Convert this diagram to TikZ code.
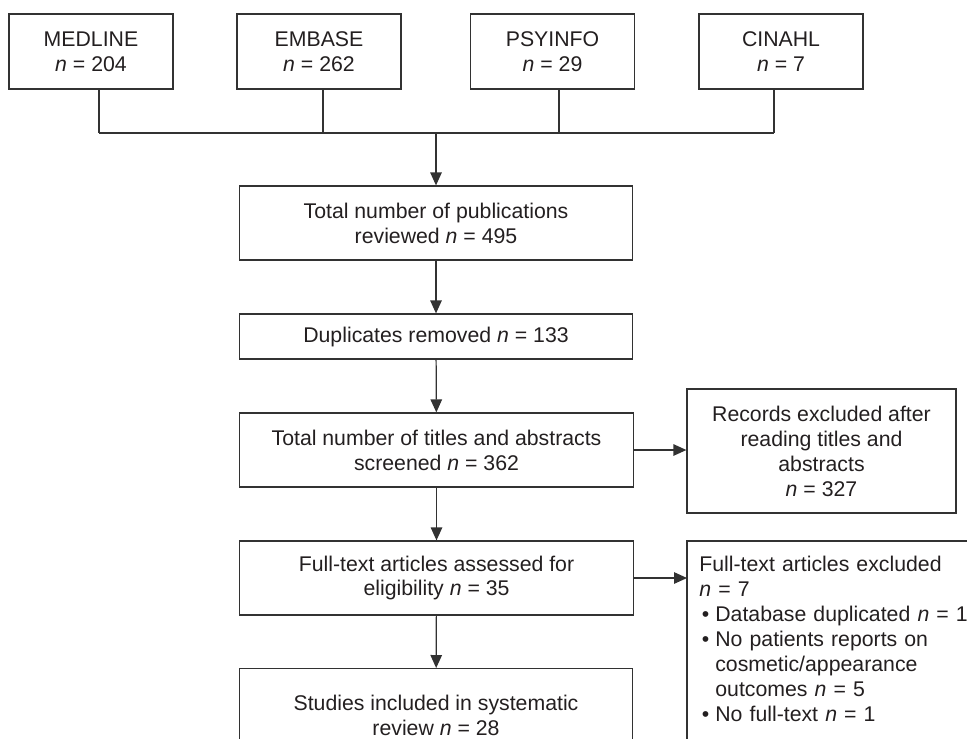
\documentclass[tikz,border=0pt]{standalone}
\usepackage{fontspec}
\setmainfont{Liberation Sans}
\usepackage{xcolor}
\usetikzlibrary{arrows.meta,positioning}
\definecolor{linecol}{RGB}{50,50,50}
\definecolor{textcol}{RGB}{35,31,32}

\begin{document}
\begin{tikzpicture}[
    x=0.2mm, y=-0.2mm,
    font=\fontsize{12.1}{14.2}\selectfont,
    every node/.style={text=textcol},
    dbbox/.style={rectangle, draw=linecol, line width=0.7pt, minimum width=32.8mm, minimum height=15mm, align=center, inner sep=0pt},
    flowbox/.style={rectangle, draw=linecol, line width=0.7pt, minimum width=78.7mm, minimum height=14.8mm, align=center, inner sep=0pt},
    arr/.style={draw=linecol, line width=0.7pt, -{Triangle[length=2.6mm,width=2.3mm]}},
    link/.style={draw=linecol, line width=0.7pt}
]
\useasboundingbox (0,0) rectangle (967,738);
\clip (0,0) rectangle (967,738);

% Databases searched
\node[dbbox] (medline) at (91,51.5) {MEDLINE\\\textit{n} = 204};
\node[dbbox] (embase) at (319,51.5) {EMBASE\\\textit{n} = 262};
\node[dbbox] (psyinfo) at (552.5,51.5) {PSYINFO\\\textit{n} = 29};
\node[dbbox] (cinahl) at (781,51.5) {CINAHL\\\textit{n} = 7};

% Main flow
\node[flowbox] (pubs) at (436,223) {Total number of publications\\reviewed \textit{n} = 495};
\node[flowbox, minimum height=9mm] (dups) at (436,336.5) {Duplicates removed \textit{n} = 133};
\node[flowbox] (screen) at (436.5,450) {Total number of titles and abstracts\\screened \textit{n} = 362};
\node[flowbox] (full) at (436.5,578) {Full-text articles assessed for\\eligibility \textit{n} = 35};
\node[flowbox, anchor=north, minimum height=18.8mm] (studies) at (436,668) {Studies included in systematic\\review \textit{n} = 28};

% Exclusions
\node[flowbox, minimum width=53.8mm, minimum height=24.8mm] (recs) at (821.5,451) {Records excluded after\\reading titles and\\abstracts\\\textit{n} = 327};
\node[anchor=north west, align=left, text width=56mm, inner xsep=2.4mm, inner ysep=3mm] (excl) at (687,541) {Full-text articles excluded\\
\textit{n} = 7\\
\makebox[3.2mm][l]{\hspace{0.5mm}\textbullet}Database duplicated \textit{n} = 1\\
\makebox[3.2mm][l]{\hspace{0.5mm}\textbullet}No patients reports on\\
\hspace*{3.2mm}cosmetic/appearance\\
\hspace*{3.2mm}outcomes \textit{n} = 5\\
\makebox[3.2mm][l]{\hspace{0.5mm}\textbullet}No full-text \textit{n} = 1};
\draw[link] (excl.north west) rectangle ++(340,240);

% Merging the searches
\coordinate (j1) at (99,133);
\coordinate (j2) at (323,133);
\coordinate (j3) at (559,133);
\coordinate (j4) at (774,133);
\coordinate (jm) at (436,133);
\draw[link] (medline.south -| j1) -- (j1);
\draw[link] (embase.south -| j2) -- (j2);
\draw[link] (psyinfo.south -| j3) -- (j3);
\draw[link] (cinahl.south -| j4) -- (j4);
\draw[link] (j1) -- (j4);
\draw[arr] (jm) -- (pubs.north);

% Arrows
\draw[arr] (pubs) -- (dups);
\draw[arr] (dups) -- (screen);
\draw[arr] (screen.east) -- (screen.east -| recs.west);
\draw[arr] (screen) -- (full);
\draw[arr] (full.east) -- (full.east -| excl.west);
\draw[arr] (full) -- (studies);

\end{tikzpicture}
\end{document}
